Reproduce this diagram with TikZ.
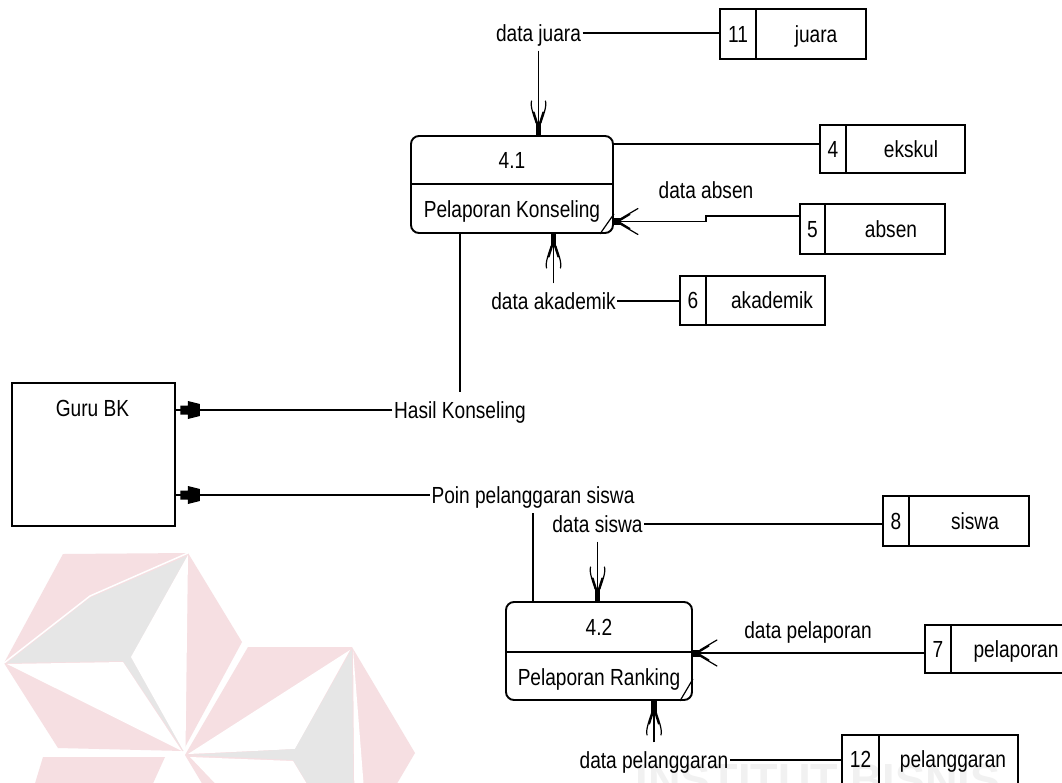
\documentclass[tikz,border=0pt]{standalone}
\usepackage{fontspec}
\setmainfont{Liberation Sans}[FakeStretch=0.82]
\newfontfamily\wmfont{Liberation Sans}
\usetikzlibrary{arrows.meta,calc}
\definecolor{logopink}{RGB}{246,223,226}
\definecolor{logogrey}{RGB}{230,230,230}
\definecolor{wmgrey}{RGB}{241,241,241}

% vertical data-flow tip (forked barbs + small block)
\pgfdeclarearrow{
  name = DFDv,
  setup code = {
    \pgfarrowssettipend{0pt}
    \pgfarrowssetlineend{-6pt}
    \pgfarrowssetbackend{-34pt}
    \pgfarrowshullpoint{0pt}{0pt}
    \pgfarrowsupperhullpoint{-34pt}{8pt}
  },
  drawing code = {
    \pgfpathrectangle{\pgfpoint{-12pt}{-2.7pt}}{\pgfpoint{12pt}{5.4pt}}
    \pgfusepathqfill
    \pgfsetlinewidth{1.2pt}
    \pgfsetroundcap
    \pgfpathmoveto{\pgfpoint{-34pt}{7pt}}
    \pgfpathcurveto{\pgfpoint{-28pt}{8.5pt}}{\pgfpoint{-18pt}{4pt}}{\pgfpoint{-12pt}{2.4pt}}
    \pgfpathmoveto{\pgfpoint{-34pt}{-7pt}}
    \pgfpathcurveto{\pgfpoint{-28pt}{-8.5pt}}{\pgfpoint{-18pt}{-4pt}}{\pgfpoint{-12pt}{-2.4pt}}
    \pgfpathmoveto{\pgfpoint{-23pt}{4.5pt}}
    \pgfpathlineto{\pgfpoint{-12pt}{1pt}}
    \pgfpathmoveto{\pgfpoint{-23pt}{-4.5pt}}
    \pgfpathlineto{\pgfpoint{-12pt}{-1pt}}
    \pgfusepathqstroke
  }
}
% horizontal data-flow tip
\pgfdeclarearrow{
  name = DFDh,
  setup code = {
    \pgfarrowssettipend{0pt}
    \pgfarrowssetlineend{-4pt}
    \pgfarrowssetbackend{-24pt}
    \pgfarrowshullpoint{0pt}{0pt}
    \pgfarrowsupperhullpoint{-24pt}{13pt}
  },
  drawing code = {
    \pgfpathrectangle{\pgfpoint{-7pt}{-3.5pt}}{\pgfpoint{7pt}{7pt}}
    \pgfusepathqfill
    \pgfsetlinewidth{1.2pt}
    \pgfsetroundcap
    \pgfpathmoveto{\pgfpoint{-24pt}{13pt}}
    \pgfpathlineto{\pgfpoint{-7pt}{3pt}}
    \pgfpathmoveto{\pgfpoint{-24pt}{-13pt}}
    \pgfpathlineto{\pgfpoint{-7pt}{-3pt}}
    \pgfpathmoveto{\pgfpoint{-16pt}{7pt}}
    \pgfpathlineto{\pgfpoint{-7pt}{1.5pt}}
    \pgfpathmoveto{\pgfpoint{-16pt}{-7pt}}
    \pgfpathlineto{\pgfpoint{-7pt}{-1.5pt}}
    \pgfusepathqstroke
  }
}
% filled tip into the external entity
\pgfdeclarearrow{
  name = DFDg,
  setup code = {
    \pgfarrowssettipend{0pt}
    \pgfarrowssetlineend{0pt}
    \pgfarrowssetbackend{-24pt}
    \pgfarrowshullpoint{0pt}{0pt}
    \pgfarrowsupperhullpoint{-24pt}{9.5pt}
  },
  drawing code = {
    \pgfpathrectangle{\pgfpoint{-12.5pt}{-4.5pt}}{\pgfpoint{8pt}{9pt}}
    \pgfpathmoveto{\pgfpoint{-12pt}{9pt}}
    \pgfpathlineto{\pgfpoint{-24pt}{6pt}}
    \pgfpathlineto{\pgfpoint{-24pt}{-6pt}}
    \pgfpathlineto{\pgfpoint{-12pt}{-9pt}}
    \pgfpathclose
    \pgfusepathqfill
  }
}

\tikzset{
  conn/.style={draw=black, line width=1.9pt},
  box/.style={draw=black, line width=1.9pt, inner sep=0pt},
  boxline/.style={draw=black, line width=1.9pt},
  markline/.style={draw=black, line width=1.2pt},
  txt/.style={inner xsep=1.5pt, inner ysep=0pt, text height=25.7pt, text depth=9pt,
    font=\fontsize{23.3}{26}\selectfont, text=black},
  wm/.style={inner sep=0pt, font=\wmfont\bfseries\fontsize{45}{50}\selectfont, text=wmgrey}
}

% #1 name, #2 left, #3 top, #4 right, #5 bottom, #6 divider x, #7 number, #8 label, #9 label x
\newcommand{\dstore}[9]{%
  \node[box, minimum width={#4-#2}, minimum height={#5-#3}] (#1) at ({(#2+#4)/2},{(#3+#5)/2}) {};
  \draw[boxline] (#6,#3) -- (#6,#5);
  \node[txt] (#1-no) at ({(#2+#6)/2},{(#3+#5)/2}) {#7};
  \node[txt] (#1-name) at (#9,{(#3+#5)/2}) {#8};
}

\begin{document}
\begin{tikzpicture}[x=1pt,y=-1pt]
\useasboundingbox (0,0) rectangle (1062,782);
\fill[white] (0,0) rectangle (1062,782);

% ---- watermark logo ----
\fill[logopink] (63,554) -- (188,553) -- (242,642) -- (183,751) -- (58,748) -- (4,663) -- cycle;
\fill[logogrey] (7,663) -- (90,598) -- (187,556) -- (131,657) -- (183,750) -- (123,661) -- cycle;
\fill[white] (7,664) -- (123,662) -- (182,751) -- cycle;
\fill[white] (188,555) -- (131,657) -- (183,750) -- (185.5,750) -- cycle;
\draw[white, line width=1.5pt] (4,663) -- (90,596) -- (188,553);
\fill[logopink] (248,647) -- (352,647) -- (415,753) -- (352,860) -- (248,860) -- (185,755) -- cycle;
\fill[white] (350,650) -- (188,754) -- (295,749) -- cycle;
\fill[logogrey] (352,649) -- (295,749) -- (188,755) -- (293,760) -- (354,860) -- cycle;
\fill[white] (353,649) -- (366,815) -- (366,860) -- (355,860) -- cycle;
\fill[white] (190,757) -- (293,761) -- (354,862) -- (290,862) -- cycle;
\fill[logopink] (43,757) -- (165,757) -- (150,790) -- (33,790) -- cycle;
\node[wm, anchor=base] (wmtext) at (818,795) {INSTITUT BISNIS};

% ---- processes ----
\node[box, rounded corners=8pt, minimum width=202, minimum height=97] (p41) at (512,184.5) {};
\coordinate (p41div) at (512,184);
\draw[boxline] (p41.west |- p41div) -- (p41.east |- p41div);
\node[txt] (p41-id) at (512,160) {4.1};
\node[txt] (p41-name) at (512,209) {Pelaporan Konseling};
\draw[markline] ($(p41.south east)+(-14,0)$) -- ($(p41.south east)+(0,-20)$);

\node[box, rounded corners=8pt, minimum width=186, minimum height=98] (p42) at (599,651) {};
\coordinate (p42div) at (599,652);
\draw[boxline] (p42.west |- p42div) -- (p42.east |- p42div);
\node[txt] (p42-id) at (599,627) {4.2};
\node[txt] (p42-name) at (599,677) {Pelaporan Ranking};
\draw[markline] ($(p42.south east)+(-13,0)$) -- ($(p42.south east)+(0,-22)$);

% ---- external entity ----
\node[box, minimum width=163, minimum height=143] (guru) at (93.5,454.5) {};
\node[txt] (guru-t) at (92.5,408) {Guru BK};

% ---- data stores ----
\dstore{juara}{720}{9}{866}{59}{756}{11}{juara}{816}
\dstore{ekskul}{820}{125}{965}{173}{846}{4}{ekskul}{911}
\dstore{absen}{800}{204}{945}{254}{825}{5}{absen}{891}
\dstore{akademik}{680}{276}{825}{325}{706}{6}{akademik}{772}
\dstore{siswa}{883}{496}{1029}{546}{909}{8}{siswa}{975}
\dstore{pelaporan}{925}{625}{1068}{673}{951}{7}{pelaporan}{1016}
\dstore{pelanggaran}{842}{735}{1018}{784}{879}{12}{pelanggaran}{953}

% ---- flow labels ----
\node[txt] (ljuara) at (538.5,33) {data juara};
\node[txt] (labsen) at (706,190) {data absen};
\node[txt] (lakad) at (553.5,301) {data akademik};
\node[txt] (lhasil) at (460,410) {Hasil Konseling};
\node[txt] (lpoin) at (533,495) {Poin pelanggaran siswa};
\node[txt] (lsiswa) at (597.5,524) {data siswa};
\node[txt] (lpelap) at (808,630) {data pelaporan};
\node[txt] (lpelang) at (654,760) {data pelanggaran};

% ---- flows ----
\draw[conn] (ljuara.east) -- (ljuara.east -| juara.west);
\draw[conn,-DFDv] (ljuara.south) -- (ljuara.south |- p41.north);
\draw[conn] ([yshift=5pt]ekskul.west) -- ([yshift=5pt]ekskul.west -| p41.east);
\coordinate (absstep) at (706,216);
\coordinate (absstep2) at (706,221.5);
\draw[conn,-DFDh] (absen.west |- absstep) -- (absstep) -- (absstep2) -- (absstep2 -| p41.east);
\draw[conn] (lakad.east) -- (lakad.east -| akademik.west);
\draw[conn,-DFDv] (lakad.north) -- (lakad.north |- p41.south);
\draw[conn] (lhasil.north |- p41.south) -- (lhasil.north);
\draw[conn,-DFDg] (lhasil.west) -- (lhasil.west -| guru.east);
\draw[conn] (lpoin.south |- p42.north) -- (lpoin.south);
\draw[conn,-DFDg] (lpoin.west) -- (lpoin.west -| guru.east);
\draw[conn] (lsiswa.east) -- (lsiswa.east -| siswa.west);
\draw[conn,-DFDv] (lsiswa.south) -- (lsiswa.south |- p42.north);
\draw[conn,-DFDh] ([yshift=-4pt]pelaporan.west) -- ([yshift=-4pt]pelaporan.west -| p42.east);
\draw[conn] (lpelang.east) -- (lpelang.east -| pelanggaran.west);
\draw[conn,-DFDv] (lpelang.north) -- (lpelang.north |- p42.south);
\end{tikzpicture}
\end{document}
